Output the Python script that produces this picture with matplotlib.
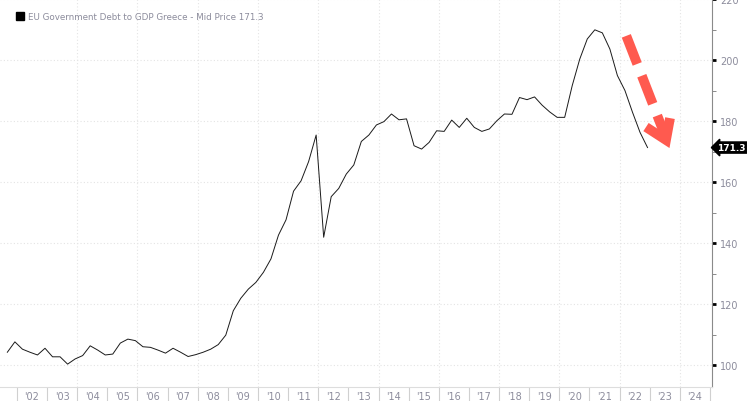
import numpy as np
import matplotlib.pyplot as plt
from matplotlib.patches import Rectangle

# EU Government Debt to GDP Greece, quarterly, starting 2001 Q3
first_year, first_q = 2001, 3
debt = [104.2, 107.6, 105.2, 104.2, 103.3, 105.5, 102.7, 102.7, 100.3, 102.0,
        103.1, 106.3, 104.9, 103.3, 103.6, 107.2, 108.5, 108.0, 106.0, 105.8,
        104.9, 103.9, 105.5, 104.2, 102.8, 103.4, 104.2, 105.2, 106.7, 109.8,
        117.8, 121.9, 124.9, 127.1, 130.4, 134.8, 142.6, 147.6, 157.0, 160.4,
        166.7, 175.4, 141.9, 155.2, 157.9, 162.6, 165.6, 173.3, 175.4, 178.7,
        179.8, 182.3, 180.4, 180.7, 171.9, 170.8, 173.0, 176.8, 176.6, 180.3,
        177.9, 180.9, 177.9, 176.6, 177.4, 180.1, 182.3, 182.2, 187.7, 187.0,
        187.9, 185.2, 183.0, 181.2, 181.2, 191.6, 200.3, 206.9, 209.9, 208.9,
        203.6, 194.9, 190.0, 182.9, 176.3, 171.3]
label_years = list(range(2002, 2025))
y_ticks = [100, 120, 140, 160, 180, 200, 220]
title = "EU Government Debt to GDP Greece - Mid Price"

GRAY = "#8c8c9c"
RED = "#ff5a4f"

n = len(debt)
# decimal year of each quarter (points sit a bit after quarter start)
qx = first_year + (first_q - 1 + np.arange(n)) / 4 + 0.18
last = debt[-1]

fig = plt.figure(figsize=(7.47, 4.02), dpi=100)
ax = fig.add_axes([0, 14 / 402, 711.7 / 747, 388 / 402])

ax.plot(qx, debt, color="#1a1a1a", lw=0.7)

ax.set_xlim(2001.436, 2025.06)
ax.set_ylim(92.8, 220.0)

# grid: dotted, horizontal every 20, vertical every two years
for yy in y_ticks:
    ax.axhline(yy, color="#e4e4e4", lw=0.8, ls=(0, (1, 2)), zorder=0)
for yr in range(2004, 2025, 2):
    ax.axvline(yr, color="#e4e4e4", lw=0.8, ls=(0, (1, 2)), zorder=0)

# spines
ax.spines["left"].set_visible(False)
ax.spines["top"].set_visible(False)
ax.spines["right"].set_color("#8a8a8a")
ax.spines["bottom"].set_color("#dddddd")

# y axis on the right
ax.yaxis.tick_right()
ax.set_yticks(y_ticks)
ax.set_yticks(np.arange(100, 221, 10), minor=True)
ax.tick_params(axis="y", which="major", direction="out", length=3, width=2,
               color="black", pad=3, labelsize=7, labelcolor=GRAY)
ax.tick_params(axis="y", which="minor", direction="out", length=3, width=0.7,
               color="#8a8a8a")

# x axis: separators at year starts, labels mid-year
ax.set_xticks(np.arange(2002, 2026), labels=[])
ax.set_xticks(np.array(label_years) + 0.5, minor=True,
              labels=["'%02d" % (y % 100) for y in label_years])
ax.tick_params(axis="x", which="major", direction="out", length=10,
               width=0.8, color="#d0d0d0")
ax.tick_params(axis="x", which="minor", length=0, pad=3, labelsize=7,
               labelcolor=GRAY)

# last value tag
ax.annotate(f"{last:.1f}", xy=(1, last), xycoords=ax.get_yaxis_transform(),
            xytext=(4, 0), textcoords="offset points", ha="left", va="center",
            color="white", fontsize=6.5, fontweight="bold",
            bbox=dict(boxstyle="larrow,pad=0.12", fc="black", ec="black"))

# legend
fig.patches.append(Rectangle((16 / 747, 1 - 21 / 402), 8 / 747, 8 / 402,
                             transform=fig.transFigure, color="black"))
fig.text(28 / 747, 1 - 17.5 / 402, f"{title} {last:.1f}", color=GRAY,
         fontsize=6.3, va="center", ha="left")

# red dashed arrow
ax.plot([0.880, 0.933], [0.905, 0.655], transform=ax.transAxes, color=RED,
        lw=7, dashes=(3.1, 1.3), solid_capstyle="butt", clip_on=False)
ax.plot([0.9077, 0.9358, 0.9414], [0.670, 0.6366, 0.693],
        transform=ax.transAxes, color=RED, lw=7, solid_joinstyle="miter",
        solid_capstyle="butt", clip_on=False)

fig.savefig("out.png", dpi=100)
